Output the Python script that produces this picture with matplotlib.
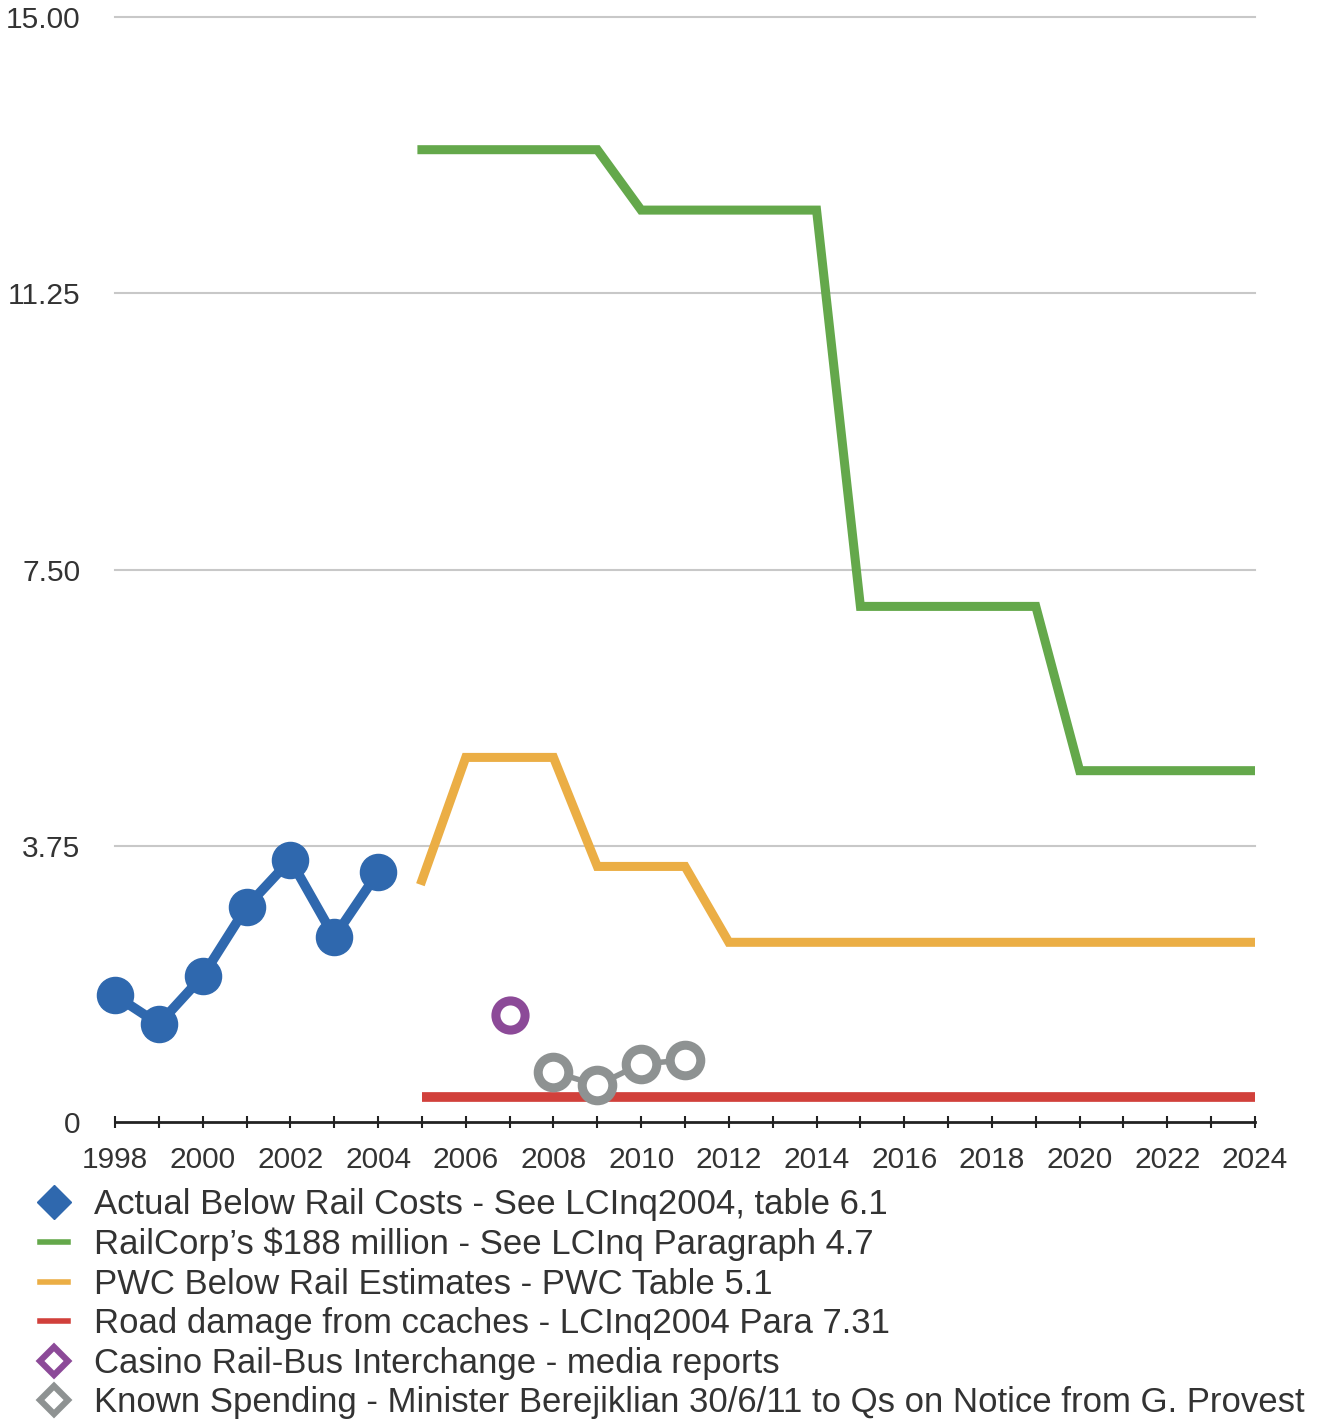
"""
  Below rail costs chart.
"""
import matplotlib
matplotlib.use("Agg")
import matplotlib.pyplot as plt
from matplotlib.lines import Line2D

# Dados
anos_atual = [1998, 1999, 2000, 2001, 2002, 2003, 2004]
custo_atual = [1.72, 1.33, 1.98, 2.92, 3.56, 2.51, 3.39]

anos_railcorp = [2005, 2009, 2010, 2014, 2015, 2019, 2020, 2024]
custo_railcorp = [13.2, 13.2, 12.38, 12.38, 7.0, 7.0, 4.77, 4.77]

anos_pwc = [2005, 2006, 2008, 2009, 2011, 2012, 2024]
custo_pwc = [3.28, 4.95, 4.95, 3.47, 3.47, 2.44, 2.44]

anos_estrada = [2005, 2024]
custo_estrada = [0.34, 0.34]

anos_casino = [2007]
custo_casino = [1.45]

anos_conhecido = [2008, 2009, 2010, 2011]
custo_conhecido = [0.68, 0.50, 0.79, 0.84]

yticks = [0, 3.75, 7.5, 11.25, 15]
ytick_labels = ["0", "3.75", "7.50", "11.25", "15.00"]

legendas = [
  "Actual Below Rail Costs - See LCInq2004, table 6.1",
  "RailCorp\u2019s $188 million - See LCInq Paragraph 4.7",
  "PWC Below Rail Estimates - PWC Table 5.1",
  "Road damage from ccaches - LCInq2004 Para 7.31",
  "Casino Rail-Bus Interchange - media reports",
  "Known Spending - Minister Berejiklian 30/6/11 to Qs on Notice from G. Provest",
]

azul = "#2f68ae"
verde = "#64a84b"
laranja = "#ebae45"
vermelho = "#d1403b"
roxo = "#8c4a98"
cinza = "#8e9292"

plt.rcParams["font.family"] = ["Liberation Sans", "DejaVu Sans"]

fig = plt.figure(figsize=(13.4, 14.25), dpi=100)
ax = fig.add_axes([0.0858, 0.2126, 0.8508, 0.7754])

# Grade
for y in yticks[1:]:
  ax.axhline(y, color="#c8c8c8", lw=1.5, zorder=0, clip_on=False)

# Series
ax.plot(anos_railcorp, custo_railcorp, color=verde, lw=6.5, solid_joinstyle="miter", zorder=2)
ax.plot(anos_pwc, custo_pwc, color=laranja, lw=6.5, solid_joinstyle="miter", zorder=2)
ax.plot(anos_estrada, custo_estrada, color=vermelho, lw=7, solid_capstyle="butt", zorder=2)
ax.plot(anos_conhecido, custo_conhecido, color=cinza, lw=4, marker="o", ms=22,
        mfc="white", mec=cinza, mew=6.5, zorder=3)
ax.plot(anos_casino, custo_casino, color=roxo, lw=0, marker="o", ms=21,
        mfc="white", mec=roxo, mew=6.5, zorder=3)
ax.plot(anos_atual, custo_atual, color=azul, lw=7, marker="o", ms=26,
        mfc=azul, mec=azul, zorder=4, clip_on=False)

# Eixos
ax.set_xlim(1998, 2024)
ax.set_ylim(0, 15)
for lado in ["top", "right", "left"]:
  ax.spines[lado].set_visible(False)
ax.spines["bottom"].set_linewidth(2)
ax.spines["bottom"].set_color("#222222")

ax.set_xticks(range(1998, 2025))
ax.set_xticklabels([str(a) if a % 2 == 0 else "" for a in range(1998, 2025)])
ax.tick_params(axis="x", direction="inout", length=8, width=1.5, color="#222222",
               labelsize=21.5, pad=13, labelcolor="#333333")
ax.set_yticks(yticks)
ax.set_yticklabels(ytick_labels)
ax.tick_params(axis="y", length=0, labelsize=21.5, pad=25, labelcolor="#333333")

# Legenda
handles = [
  Line2D([], [], color=azul, lw=0, marker="D", ms=17),
  Line2D([], [], color=verde, lw=4),
  Line2D([], [], color=laranja, lw=4),
  Line2D([], [], color=vermelho, lw=4),
  Line2D([], [], color=roxo, lw=0, marker="D", ms=14, mfc="white", mew=4.5),
  Line2D([], [], color=cinza, lw=0, marker="D", ms=14, mfc="white", mew=4.5),
]
fig.legend(handles, legendas, loc="upper left", bbox_to_anchor=(0.017, 0.1785),
           frameon=False, fontsize=25.0, handlelength=0.8, handletextpad=0.75,
           labelspacing=0.19, borderpad=0, labelcolor="#333333")

fig.savefig("out.png", dpi=100)
